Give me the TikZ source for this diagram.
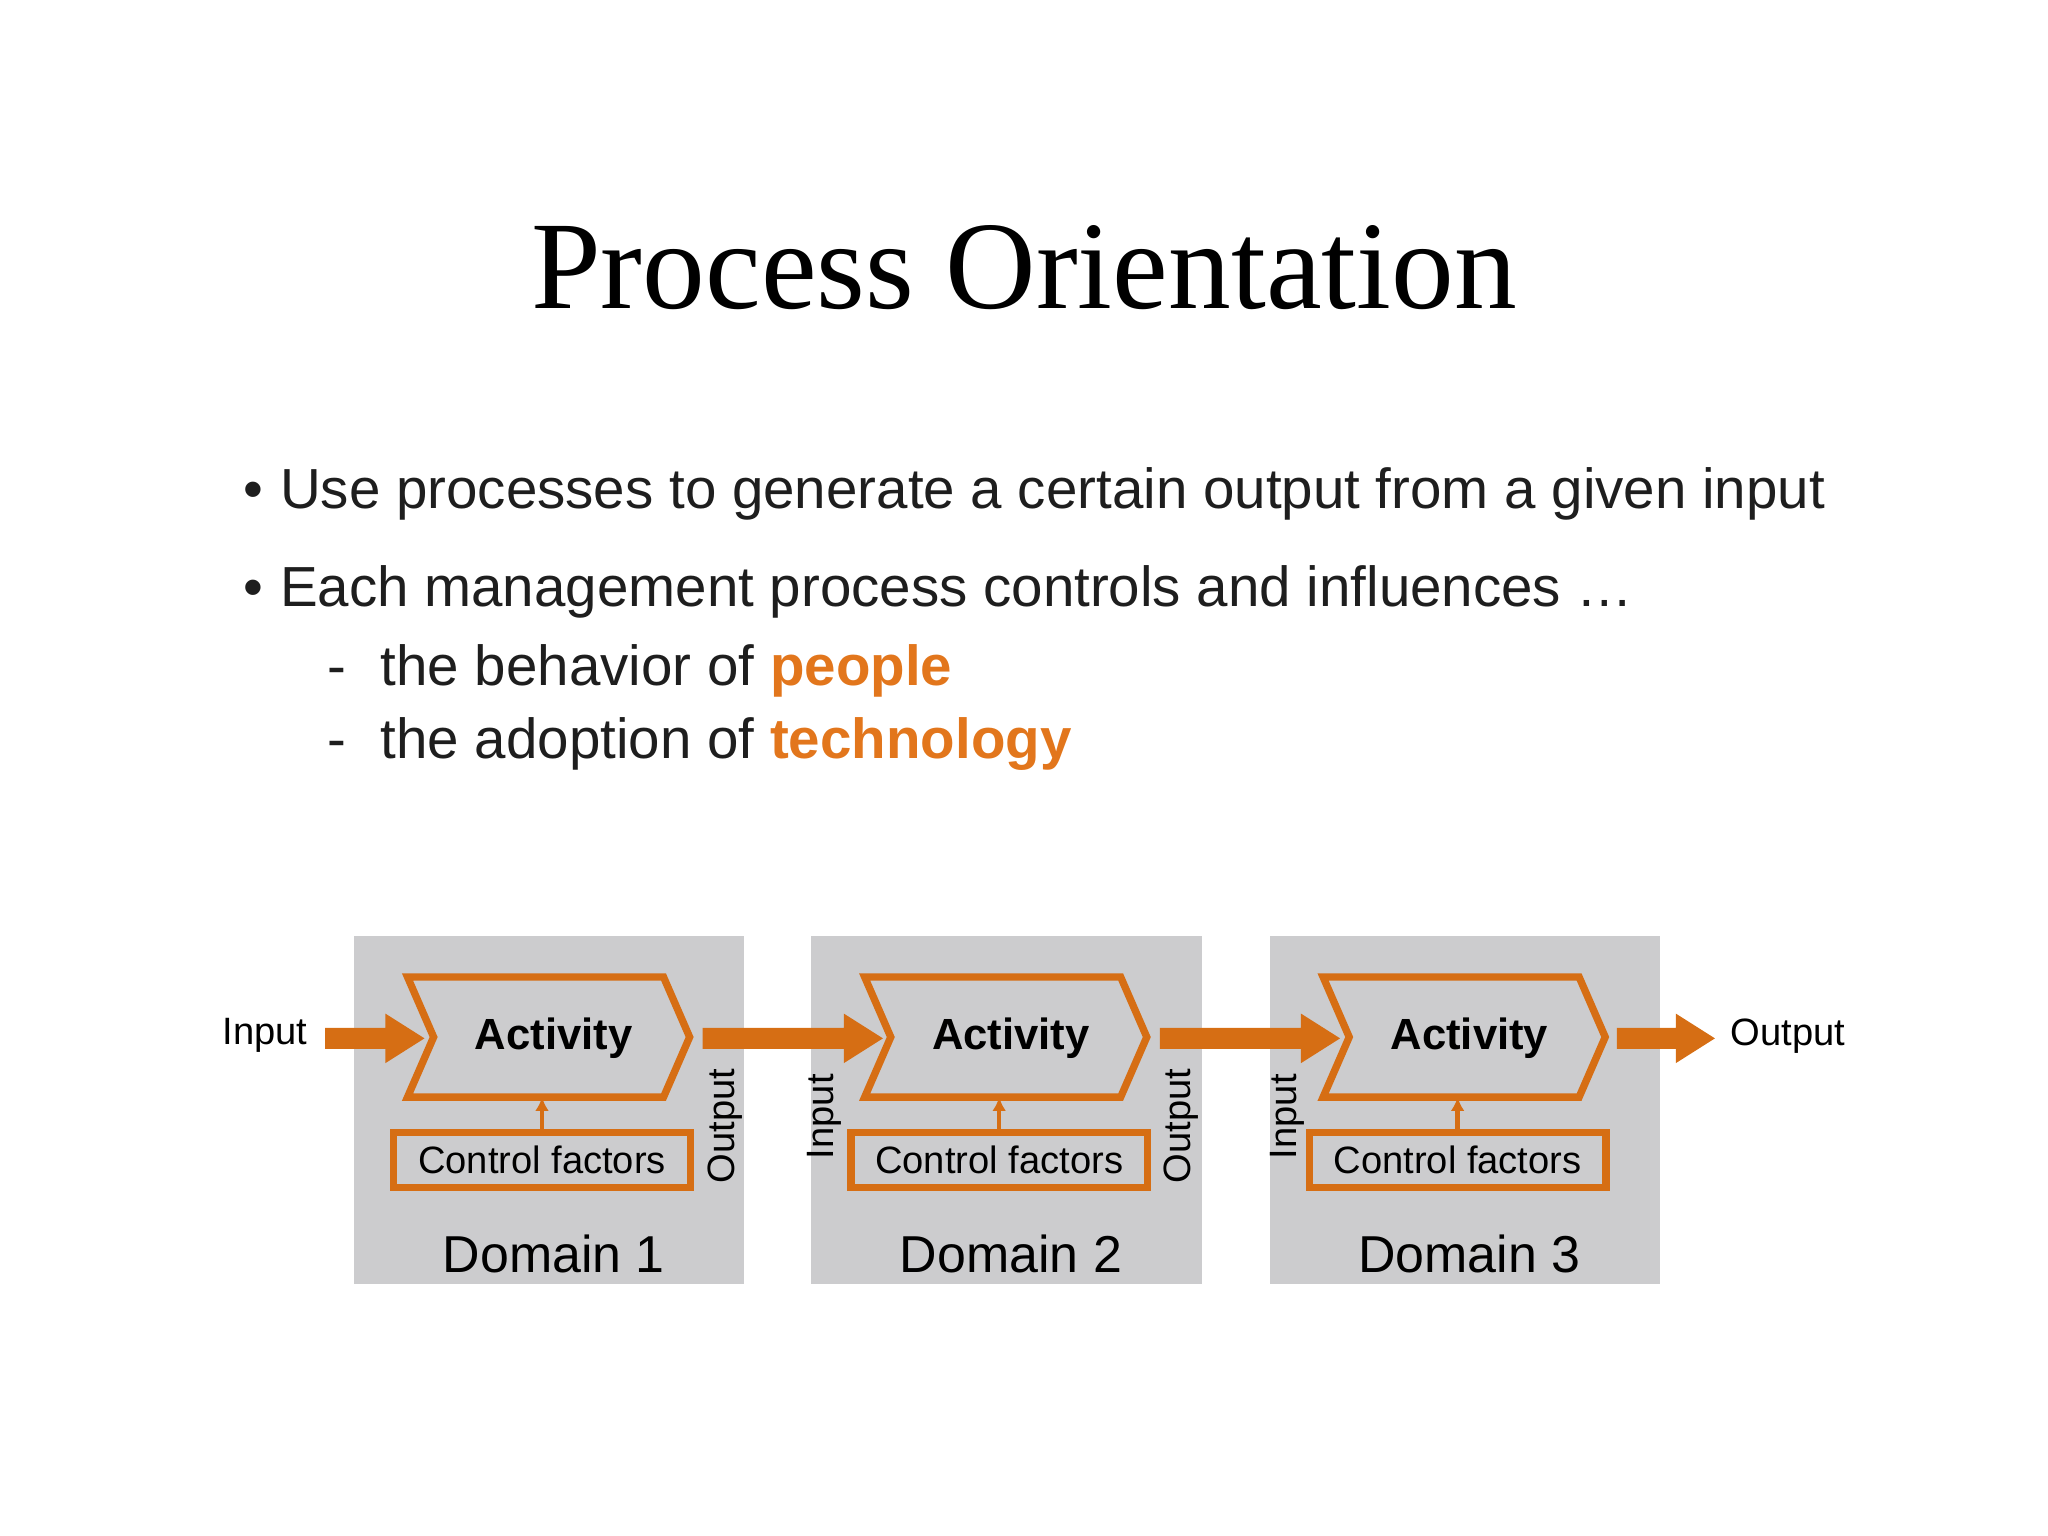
\documentclass[tikz,border=0pt]{standalone}
\usepackage{fontspec}
\usetikzlibrary{arrows.meta}
\setmainfont{Liberation Sans}
\newfontfamily\titlefont{Liberation Serif}
\definecolor{org}{RGB}{214,110,20}
\definecolor{orgt}{RGB}{226,118,28}
\definecolor{dgray}{RGB}{204,204,206}
\definecolor{txt}{RGB}{30,30,30}
\begin{document}
\begin{tikzpicture}[x=0.01cm,y=-0.01cm,
  dom/.style={fill=dgray,draw=none},
  chev/.style={draw=org,line width=1.6pt,fill=dgray,line join=miter},
  ctrl/.style={draw=org,line width=1.6pt,minimum width=2.27cm,minimum height=0.42cm,inner sep=0pt,font=\fontsize{8.3pt}{8.3pt}\selectfont},
  bigarrow/.style={draw=none,fill=org},
  side/.style={rotate=90,font=\fontsize{8.3pt}{8.3pt}\selectfont},
  btxt/.style={anchor=base west,font=\fontsize{12.3pt}{12.3pt}\selectfont,text=txt},
  small/.style={org,line width=1pt,-{Latex[length=3pt,width=3pt]}}]
\useasboundingbox (0,0) rectangle (1568,1176);
\node[font=\titlefont\fontsize{27.3pt}{27.3pt}\selectfont] (title) at (784,205) {Process Orientation};
\node[btxt] (d1) at (174,389) {•};
\node[btxt] (b1) at (202,389) {Use processes to generate a certain output from a given input};
\node[btxt] (d2) at (174,464) {•};
\node[btxt] (b2) at (202,464) {Each management process controls and influences \dots};
\node[btxt] (m1) at (238,525) {-};
\node[btxt] (s1) at (279,525) {the behavior of \textcolor{orgt}{\textbf{people}}};
\node[btxt] (m2) at (238,581) {-};
\node[btxt] (s2) at (279,581) {the adoption of \textcolor{orgt}{\textbf{technology}}};
\foreach \i/\ox in {1/0,2/350,3/701}{
  \begin{scope}[shift={(\ox,0)}]
  \fill[dom] (271,717) rectangle (570,983);
  \draw[chev] (312,748) -- (508,748) -- (528,794) -- (508,840) -- (312,840) -- (332,794) -- cycle;
  \node[font=\bfseries\fontsize{9.5pt}{9.5pt}\selectfont] (act\i) at (424,795) {Activity};
  \node[ctrl] (cf\i) at (415,888) {Control factors};
  \coordinate (cft\i) at (415,866);
  \coordinate (chb\i) at (415,840);
  \draw[small] (cft\i) -- (chb\i);
  \node[font=\fontsize{11.3pt}{11.3pt}\selectfont] (dn\i) at (424,960) {Domain \i};
  \end{scope}}
\node[side] (o1) at (555,862) {Output};
\node[side] (i2) at (631,855) {Input};
\node[side] (o2) at (904,862) {Output};
\node[side] (i3) at (986,855) {Input};
\node[font=\fontsize{8.3pt}{8.3pt}\selectfont] (inp) at (203,793) {Input};
\node[font=\fontsize{8.3pt}{8.3pt}\selectfont] (outp) at (1369,793) {Output};
\foreach \a/\b in {249/325,538/676,888/1026,1238/1313}{
  \fill[bigarrow] (\a,787) -- (\b-30,787) -- (\b-30,776) -- (\b,795) -- (\b-30,814) -- (\b-30,803) -- (\a,803) -- cycle;}
\end{tikzpicture}
\end{document}
